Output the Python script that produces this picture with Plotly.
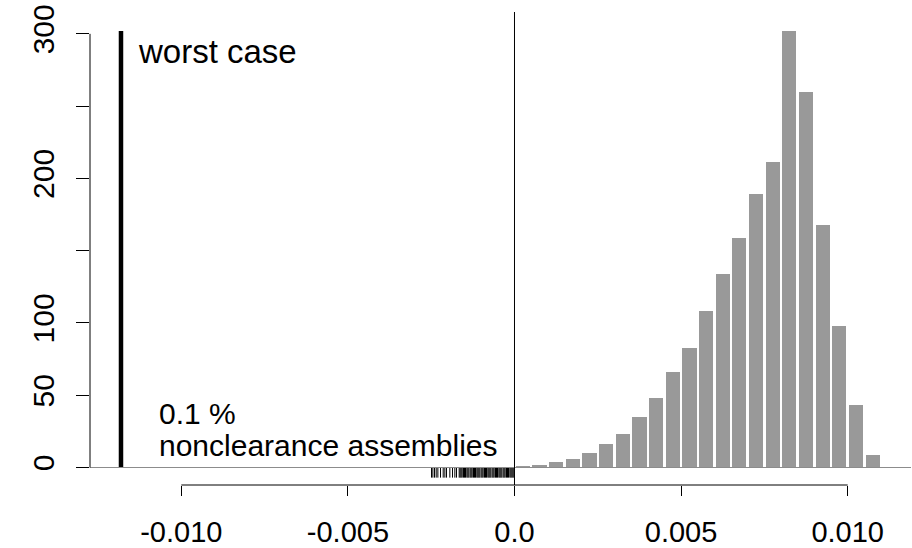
import plotly.graph_objects as go

# ---- data ----
bin_starts = [0.0000, 0.0005, 0.0010, 0.0015, 0.0020, 0.0025, 0.0030, 0.0035,
              0.0040, 0.0045, 0.0050, 0.0055, 0.0060, 0.0065, 0.0070, 0.0075,
              0.0080, 0.0085, 0.0090, 0.0095, 0.0100, 0.0105]
bin_width = 0.0005
counts = [1, 2, 4, 6, 10, 16, 23, 35, 48, 66, 83, 108, 134, 159, 189, 211,
          302, 260, 168, 98, 43, 9]

rug_values = [-0.00249, -0.00245, -0.00240, -0.00235, -0.00230, -0.00222,
              -0.00214, -0.00209, -0.00204, -0.00194, -0.00186, -0.00179,
              -0.00174, -0.00166,
              -0.00163, -0.00160, -0.00157, -0.00153, -0.00150, -0.00147,
              -0.00143, -0.00140, -0.00137, -0.00133, -0.00130, -0.00127,
              -0.00123, -0.00120, -0.00117, -0.00113, -0.00110, -0.00107,
              -0.00104, -0.00100, -0.00097, -0.00094, -0.00090, -0.00087,
              -0.00084, -0.00080, -0.00077, -0.00074, -0.00071, -0.00067,
              -0.00064, -0.00061, -0.00057, -0.00054, -0.00051, -0.00047,
              -0.00044, -0.00041, -0.00038, -0.00034, -0.00031, -0.00028,
              -0.00024, -0.00021, -0.00018, -0.00014, -0.00011, -0.00008,
              -0.00005, -0.00002]
rug_length = 7

worst_case_x = -0.01181
worst_case_height = 302

x_tick_vals = [-0.010, -0.005, 0.0, 0.005, 0.010]
x_tick_text = ["-0.010", "-0.005", "0.0", "0.005", "0.010"]
y_tick_vals = [0, 50, 100, 150, 200, 250, 300]
y_tick_text = ["0", "50", "100", "", "200", "", "300"]

label_worst = "worst case"
label_pct = "0.1 %"
label_nonclear = "nonclearance assemblies"

FONT = "Liberation Sans, Arial, sans-serif"

# ---- figure ----
fig = go.Figure()

bar_centers = [s + bin_width / 2 for s in bin_starts]
fig.add_trace(go.Bar(x=bar_centers, y=counts, width=[bin_width * 0.85] * len(counts),
                     marker=dict(color="#999999", line=dict(width=0)),
                     hoverinfo="skip"))

rx, ry = [], []
for v in rug_values:
    rx += [v, v, None]
    ry += [0, -rug_length, None]
fig.add_trace(go.Scatter(x=rx, y=ry, mode="lines",
                         line=dict(color="black", width=1), hoverinfo="skip"))

fig.add_trace(go.Scatter(x=[worst_case_x, worst_case_x], y=[0, worst_case_height],
                         mode="lines", line=dict(color="black", width=4.5),
                         hoverinfo="skip"))

# baseline and zero line
fig.add_shape(type="line", xref="paper", yref="y", x0=0, x1=1, y0=0, y1=0,
              line=dict(color="#8c8c8c", width=1.2), layer="above")
fig.add_shape(type="line", xref="x", yref="paper", x0=0, x1=0, y0=0, y1=1,
              line=dict(color="black", width=1), layer="above")
# R-style axis lines spanning only the tick range
fig.add_shape(type="line", xref="x", yref="paper", x0=x_tick_vals[0], x1=x_tick_vals[-1],
              y0=0, y1=0, line=dict(color="black", width=1))
fig.add_shape(type="line", xref="paper", yref="y", x0=0, x1=0,
              y0=y_tick_vals[0], y1=y_tick_vals[-1], line=dict(color="black", width=1))

fig.add_annotation(x=-0.01136, y=288, text=label_worst, showarrow=False,
                   xanchor="left", yanchor="middle", font=dict(size=33, color="black", family=FONT))
fig.add_annotation(x=-0.01073, y=37.7, text=label_pct, showarrow=False,
                   xanchor="left", yanchor="middle", font=dict(size=30, color="black", family=FONT))
fig.add_annotation(x=-0.01073, y=14.9, text=label_nonclear, showarrow=False,
                   xanchor="left", yanchor="middle", font=dict(size=30, color="black", family=FONT))

fig.update_layout(
    width=912, height=548,
    margin=dict(l=90, r=1, t=12, b=63),
    paper_bgcolor="white", plot_bgcolor="white",
    showlegend=False,
    bargap=0,
    font=dict(family=FONT, color="black"),
)
fig.update_xaxes(range=[-0.01274, 0.0119], showgrid=False, zeroline=False, showline=False,
                 automargin=False,
                 tickmode="array", tickvals=x_tick_vals, ticktext=x_tick_text,
                 ticks="outside", ticklen=10, tickwidth=1, tickcolor="black",
                 tickfont=dict(size=29, family=FONT), ticklabelstandoff=11)
fig.update_yaxes(range=[-12.1, 315.1], showgrid=False, zeroline=False, showline=False,
                 automargin=False,
                 tickmode="array", tickvals=y_tick_vals, ticktext=y_tick_text,
                 ticks="outside", ticklen=13, tickwidth=1, tickcolor="black",
                 tickangle=-90, tickfont=dict(size=30, family=FONT), ticklabelstandoff=10)

fig.write_html("out.html")
